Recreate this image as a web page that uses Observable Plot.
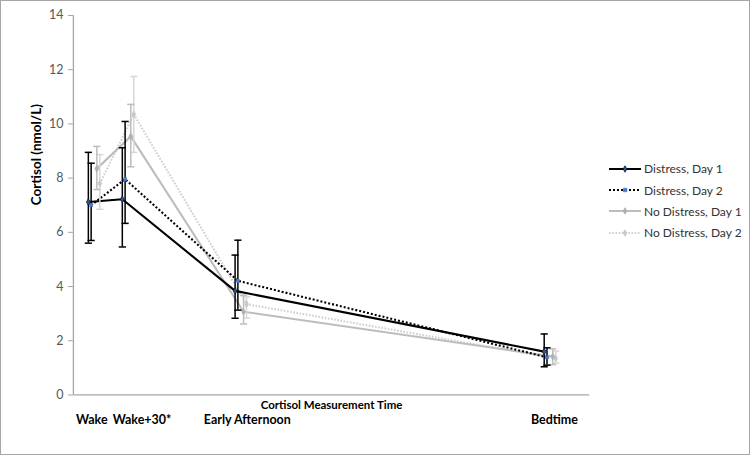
<!DOCTYPE html>
<html>
<head>
<meta charset="utf-8">
<script src="https://cdn.jsdelivr.net/npm/d3@7"></script>
<script src="https://cdn.jsdelivr.net/npm/@observablehq/plot@0.6"></script>
<style>
  html, body { margin: 0; padding: 0; background: #fff; }
  #wrap { position: relative; width: 750px; height: 455px; box-sizing: border-box; border: 1px solid #a6a6a6; overflow: hidden; font-family: Lato, "Open Sans", sans-serif; }
  #chart { position: absolute; left: -1px; top: -1px; }
  #legend { position: absolute; left: 608px; top: 157px; font-size: 12px; color: #333; }
  .row { display: flex; align-items: center; height: 21.4px; }
  .row svg { margin-right: 3px; }
</style>
</head>
<body>
<div id="wrap"><div id="chart"></div><div id="legend"></div></div>
<script>
// Measurement times (hours after waking) and labels
const times = [0, 0.5, 2.16, 6.71];
const categories = ["Wake", "Wake+30*", "Early Afternoon", "Bedtime"];
const labelTimes = [0.05, 0.79, 2.34, 6.86];

// Series names
const seriesNames = ["Distress, Day 1", "Distress, Day 2", "No Distress, Day 1", "No Distress, Day 2"];

// Means and error bar ends (nmol/L)
const d1Mean = [7.12, 7.22, 3.84, 1.60];
const d1Low  = [5.60, 5.46, 2.83, 1.04];
const d1High = [8.95, 9.12, 5.16, 2.25];

const d2Mean = [7.00, 7.96, 4.21, 1.39];
const d2Low  = [5.70, 6.33, 3.13, 1.10];
const d2High = [8.55, 10.09, 5.71, 1.74];

const nd1Mean = [8.35, 9.54, 3.07, 1.42];
const nd1Low  = [7.58, 8.42, 2.62, 1.12];
const nd1High = [9.17, 10.72, 3.68, 1.70];

const nd2Mean = [7.80, 10.35, 3.35, 1.35];
const nd2Low  = [6.85, 8.95, 2.84, 1.18];
const nd2High = [8.87, 11.75, 3.62, 1.62];

const yTicks = [0, 2, 4, 6, 8, 10, 12, 14];

function rows(name, mean, low, high) {
  return times.map((t, i) => ({series: name, t, mean: mean[i], low: low[i], high: high[i]}));
}

const styles = [
  {name: seriesNames[3], data: rows(seriesNames[3], nd2Mean, nd2Low, nd2High), dx: 11.5, line: "#cfcfcf", err: "#d6d6d6", dash: "1.6,1.6", sym: "diamond", mfill: "#c8c8c8", mstroke: "#c8c8c8"},
  {name: seriesNames[2], data: rows(seriesNames[2], nd1Mean, nd1Low, nd1High), dx: 8.5, line: "#bdbdbd", err: "#bdbdbd", dash: null, sym: "diamond", mfill: "#b0b0b0", mstroke: "#b0b0b0"},
  {name: seriesNames[1], data: rows(seriesNames[1], d2Mean, d2Low, d2High), dx: 2.8, line: "#000", err: "#000", dash: "2,2", sym: "square", mfill: "#4a7cc9", mstroke: "#4a7cc9"},
  {name: seriesNames[0], data: rows(seriesNames[0], d1Mean, d1Low, d1High), dx: 0, line: "#000", err: "#000", dash: null, sym: "diamond", mfill: "#2f5597", mstroke: "#0b1a33"}
];

const capSymbol = {
  draw(context, size) {
    const w = Math.sqrt(size / Math.PI);
    context.moveTo(-w, 0);
    context.lineTo(w, 0);
  }
};

const marks = [
  Plot.ruleY([0], {stroke: "#a6a6a6", strokeWidth: 1.3}),
  Plot.ruleX([-0.22], {y1: 0, y2: 14, stroke: "#a6a6a6", strokeWidth: 1.3})
];

for (const s of styles) {
  marks.push(Plot.line(s.data, {x: "t", y: "mean", dx: s.dx, stroke: s.line, strokeWidth: 2.1, strokeLinecap: "butt", strokeLinejoin: "miter", strokeDasharray: s.dash || undefined}));
}
for (const s of styles) {
  const w = 1.5;
  marks.push(Plot.ruleX(s.data, {x: "t", y1: "low", y2: "high", dx: s.dx, stroke: s.err, strokeWidth: w}));
  marks.push(Plot.dot(s.data, {x: "t", y: "low", dx: s.dx, symbol: capSymbol, r: 3.6, stroke: s.err, strokeWidth: w, fill: "none"}));
  marks.push(Plot.dot(s.data, {x: "t", y: "high", dx: s.dx, symbol: capSymbol, r: 3.6, stroke: s.err, strokeWidth: w, fill: "none"}));
  marks.push(Plot.dot(s.data, {x: "t", y: "mean", dx: s.dx, symbol: s.sym, r: s.sym === "square" ? 1.6 : 2, fill: s.mfill, stroke: s.mstroke, strokeWidth: 0.8}));
}

marks.push(Plot.axisY({ticks: yTicks, tickSize: 5, tickPadding: 5, stroke: "#a6a6a6", fill: "#595959", fontSize: 12.5, label: null}));
marks.push(Plot.axisX({ticks: labelTimes, tickSize: 0, tickPadding: 20, tickFormat: (d, i) => categories[i], fill: "#000", fontSize: 12.5, fontWeight: "bold", label: null}));
marks.push(Plot.text(["Cortisol Measurement Time"], {frameAnchor: "bottom", dy: 10, lineAnchor: "middle", fontSize: 11.5, fontWeight: "bold", fill: "#000"}));
marks.push(Plot.text(["Cortisol (nmol/L)"], {frameAnchor: "left", dx: -37, rotate: -90, fontSize: 13.5, fontWeight: "bold", fill: "#000"}));

const chart = Plot.plot({
  width: 750,
  height: 455,
  marginTop: 15,
  marginBottom: 60,
  marginLeft: 73,
  marginRight: 160,
  style: {fontFamily: "Lato, 'Open Sans', sans-serif", background: "transparent", overflow: "visible"},
  x: {type: "linear", domain: [-0.22, 7.38], axis: null},
  y: {domain: [0, 14], axis: null},
  marks
});
document.getElementById("chart").appendChild(chart);

// Legend
const legend = document.getElementById("legend");
const legendOrder = [3, 2, 1, 0];
for (const idx of legendOrder) {
  const s = styles[idx];
  const row = document.createElement("div");
  row.className = "row";
  const sw = d3.create("svg").attr("width", 32).attr("height", 10);
  sw.append("line").attr("x1", 0).attr("x2", 32).attr("y1", 5).attr("y2", 5)
    .attr("stroke", s.line).attr("stroke-width", 2).attr("stroke-dasharray", s.dash);
  const sym = d3.symbol(s.sym === "square" ? d3.symbolSquare : d3.symbolDiamond, 12);
  sw.append("path").attr("d", sym()).attr("transform", "translate(16,5)")
    .attr("fill", s.mfill).attr("stroke", s.mstroke).attr("stroke-width", 0.8);
  row.appendChild(sw.node());
  const t = document.createElement("span");
  t.textContent = s.name;
  row.appendChild(t);
  legend.appendChild(row);
}
</script>
</body>
</html>
